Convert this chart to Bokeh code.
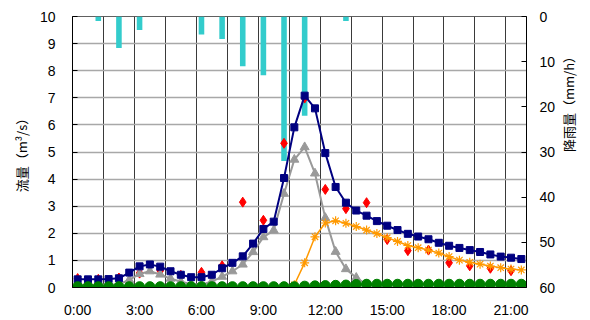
import math
from bokeh.plotting import figure
from bokeh.models import Range1d, LinearAxis, FixedTicker
from bokeh.embed import file_html
from bokeh.resources import INLINE

# ---------------- data ----------------
TIMES = ["0:00", "0:30", "1:00", "1:30", "2:00", "2:30", "3:00", "3:30", "4:00", "4:30",
         "5:00", "5:30", "6:00", "6:30", "7:00", "7:30", "8:00", "8:30", "9:00", "9:30",
         "10:00", "10:30", "11:00", "11:30", "12:00", "12:30", "13:00", "13:30", "14:00", "14:30",
         "15:00", "15:30", "16:00", "16:30", "17:00", "17:30", "18:00", "18:30", "19:00", "19:30",
         "20:00", "20:30", "21:00", "21:30"]

# calculated flow (navy squares)
flow_blue = [0.30, 0.30, 0.30, 0.31, 0.34, 0.55, 0.78, 0.85, 0.77, 0.60,
             0.47, 0.38, 0.38, 0.47, 0.71, 0.91, 1.15, 1.62, 2.16, 2.43,
             4.04, 5.91, 7.08, 6.61, 4.96, 3.71, 3.13, 2.84, 2.65, 2.45,
             2.28, 2.12, 1.98, 1.88, 1.78, 1.65, 1.54, 1.46, 1.38, 1.31,
             1.22, 1.14, 1.10, 1.05]

# surface runoff (gray triangles)
flow_gray = [0.10, 0.10, 0.10, 0.10, 0.12, 0.28, 0.50, 0.60, 0.48, 0.33,
             0.21, 0.13, 0.10, 0.22, 0.40, 0.60, 0.85, 1.31, 1.86, 2.11,
             3.46, 4.72, 5.18, 4.21, 2.57, 1.32, 0.68, 0.36, 0.12, 0.03,
             0.00, 0.00, 0.00, 0.00, 0.00, 0.00, 0.00, 0.00, 0.00, 0.00,
             0.00, 0.00, 0.00, 0.00]

# base flow (green circles)
flow_green = [0.03, 0.03, 0.03, 0.03, 0.03, 0.03, 0.03, 0.03, 0.03, 0.03,
              0.03, 0.03, 0.03, 0.03, 0.03, 0.03, 0.03, 0.03, 0.03, 0.03,
              0.03, 0.03, 0.05, 0.06, 0.07, 0.08, 0.09, 0.11, 0.12, 0.12,
              0.12, 0.12, 0.12, 0.12, 0.12, 0.12, 0.12, 0.12, 0.12, 0.12,
              0.12, 0.12, 0.12, 0.12]

# interflow (orange asterisks), from 10:30
TIMES_ORANGE = ["10:30", "11:00", "11:30", "12:00", "12:30", "13:00", "13:30", "14:00",
                "14:30", "15:00", "15:30", "16:00", "16:30", "17:00", "17:30", "18:00",
                "18:30", "19:00", "19:30", "20:00", "20:30", "21:00", "21:30"]
flow_orange = [0.10, 0.91, 1.87, 2.38, 2.46, 2.37, 2.25, 2.12,
               1.99, 1.84, 1.70, 1.55, 1.47, 1.38, 1.27, 1.14,
               1.01, 0.93, 0.86, 0.79, 0.73, 0.68, 0.65]

# observed flow (red diamonds), hourly
TIMES_OBS = ["0:00", "1:00", "2:00", "3:00", "4:00", "5:00", "6:00", "7:00", "8:00", "9:00",
             "10:00", "11:00", "12:00", "13:00", "14:00", "15:00", "16:00", "17:00", "18:00",
             "19:00", "20:00", "21:00"]
flow_obs = [0.33, 0.30, 0.35, 0.53, 0.62, 0.45, 0.56, 0.80, 3.15, 2.48,
            5.32, 6.99, 3.62, 2.91, 3.13, 1.77, 1.36, 1.38, 0.91, 0.80, 0.71, 0.62]

# hourly rainfall (mm/h)
rain = [0, 1, 7, 3, 0, 0, 4, 5, 11, 13, 32, 22, 0, 1, 0, 0, 0, 0, 0, 0, 0, 0]

X_TICK_LABELS = ["0:00", "3:00", "6:00", "9:00", "12:00", "15:00", "18:00", "21:00"]
Y_TICKS = [0, 1, 2, 3, 4, 5, 6, 7, 8, 9, 10]
RAIN_TICKS = [0, 10, 20, 30, 40, 50, 60]


def to_h(s):
    h, m = s.split(":")
    return int(h) + int(m) / 60.0


t = [to_h(s) for s in TIMES]
t_orange = [to_h(s) for s in TIMES_ORANGE]
t_obs = [to_h(s) for s in TIMES_OBS]
x_ticks = [to_h(s) for s in X_TICK_LABELS]

# ---------------- figure ----------------
p = figure(width=590, height=320,
           x_range=Range1d(-0.25, 21.75), y_range=Range1d(0, 10),
           output_backend="svg", toolbar_location=None,
           min_border_left=72, min_border_right=58, min_border_top=16, min_border_bottom=32)
p.extra_y_ranges = {"rain": Range1d(60, 0)}
p.background_fill_color = "white"
p.border_fill_color = "white"
p.outline_line_color = "#606060"
p.outline_line_width = 1

TICK_FONT = "Liberation Sans"
TITLE_FONT = "Noto Sans CJK JP"

# x axis
xa = p.xaxis[0]
xa.ticker = FixedTicker(ticks=x_ticks)
xa.major_label_overrides = {xv: lab for xv, lab in zip(x_ticks, X_TICK_LABELS)}
xa.major_tick_in = 0
xa.major_tick_out = 0
xa.minor_tick_in = 0
xa.minor_tick_out = 0
xa.major_label_standoff = 14
xa.major_label_text_font = TICK_FONT
xa.major_label_text_font_size = "14px"
xa.major_label_text_color = "black"
xa.axis_line_color = "black"

# left axis
ya = p.yaxis[0]
ya.ticker = FixedTicker(ticks=Y_TICKS)
ya.major_tick_in = 5
ya.major_tick_out = 0
ya.minor_tick_in = 0
ya.minor_tick_out = 0
ya.major_label_standoff = 17
ya.major_label_text_font = TICK_FONT
ya.major_label_text_font_size = "14px"
ya.major_label_text_color = "black"
ya.axis_line_color = "black"
ya.axis_label = "流量（m³/s）"
ya.axis_label_text_font = TITLE_FONT
ya.axis_label_text_font_size = "13px"
ya.axis_label_text_font_style = "normal"
ya.axis_label_text_color = "black"
ya.axis_label_standoff = 6

# right axis (rainfall, inverted)
ra = LinearAxis(y_range_name="rain", ticker=FixedTicker(ticks=RAIN_TICKS))
ra.major_tick_in = 5
ra.major_tick_out = 0
ra.minor_tick_in = 0
ra.minor_tick_out = 0
ra.major_label_standoff = 13
ra.major_label_text_font = TICK_FONT
ra.major_label_text_font_size = "14px"
ra.major_label_text_color = "black"
ra.axis_line_color = "black"
ra.axis_label = "降雨量（mm/h）"
ra.axis_label_text_font = TITLE_FONT
ra.axis_label_text_font_size = "13px"
ra.axis_label_text_font_style = "normal"
ra.axis_label_text_color = "black"
ra.axis_label_standoff = 10
if "axis_label_orientation" in ra.properties():
    ra.axis_label_orientation = math.pi / 2
p.add_layout(ra, "right")

# grids
p.xgrid.ticker = FixedTicker(ticks=[-0.25 + 1.5 * k for k in range(1, 15)])
p.xgrid.grid_line_color = "#3a3a3a"
p.xgrid.grid_line_width = 1
p.ygrid.grid_line_color = "#a8a8a8"
p.ygrid.grid_line_width = 1.5

# ---------------- glyphs ----------------
rain_hours = [float(h) for h in range(len(rain))]
p.vbar(x=rain_hours, width=0.27, top=0, bottom=rain, y_range_name="rain",
       fill_color="#33CCCC", line_color=None)

p.scatter(t_obs, flow_obs, marker="diamond", size=10, fill_color="#FF0000", line_color="#FF0000")

p.line(t, flow_gray, line_color="#999999", line_width=2)
p.scatter(t, flow_gray, marker="triangle", size=9, fill_color="#999999", line_color="#999999")

p.line(t, flow_blue, line_color="#000080", line_width=2)
p.scatter(t, flow_blue, marker="square", size=7, fill_color="#000080", line_color="#000080")

p.line(t_orange, flow_orange, line_color="#FF9900", line_width=1.5)
p.scatter(t_orange, flow_orange, marker="asterisk", size=9, line_color="#FF9900", line_width=1.2)

p.line(t, flow_green, line_color="#008000", line_width=1.5)
p.scatter(t, flow_green, marker="circle", size=10, fill_color="#008000", line_color="#008000")

with open("out.html", "w", encoding="utf-8") as f:
    f.write(file_html(p, INLINE))
